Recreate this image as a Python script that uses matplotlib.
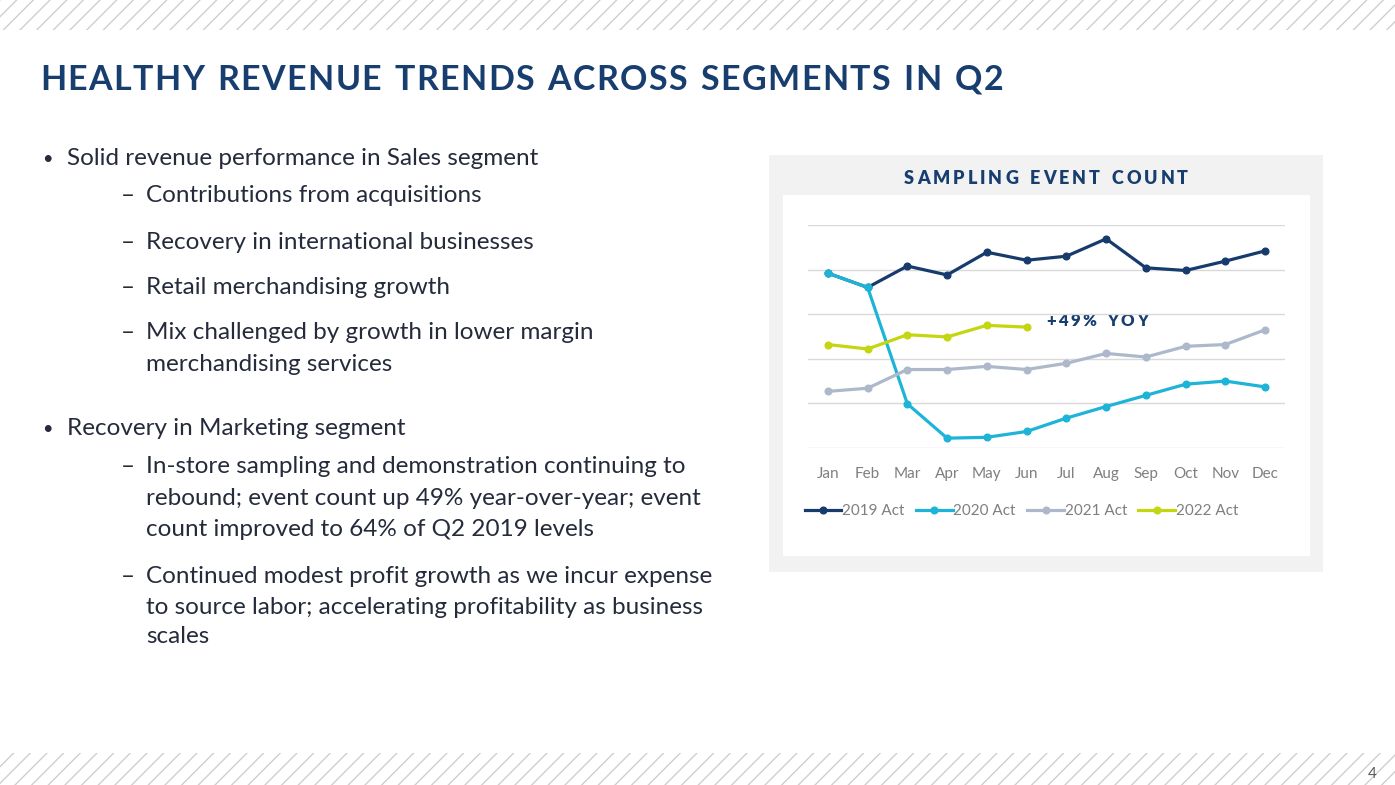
import matplotlib
matplotlib.use("Agg")
import matplotlib.pyplot as plt
from matplotlib.patches import Rectangle
from matplotlib.lines import Line2D

W, H = 1395, 785

# -------------------------------------------------------
# DATA (gridline step = 10)
# -------------------------------------------------------
months = ["Jan", "Feb", "Mar", "Apr", "May", "Jun",
          "Jul", "Aug", "Sep", "Oct", "Nov", "Dec"]
act_2019 = [39.2, 36.0, 40.8, 38.8, 43.9, 42.1, 43.0, 46.9, 40.4, 39.8, 41.9, 44.2]
act_2020 = [39.2, 36.0, 9.9, 2.2, 2.4, 3.7, 6.7, 9.3, 11.8, 14.3, 15.0, 13.7]
act_2021 = [12.7, 13.4, 17.6, 17.6, 18.3, 17.6, 19.0, 21.2, 20.4, 22.8, 23.2, 26.5]
act_2022 = [23.2, 22.2, 25.4, 24.9, 27.5, 27.1]
series_labels = ["2019 Act", "2020 Act", "2021 Act", "2022 Act"]
series_colors = ["#173B6C", "#1DB4D8", "#ADB9CA", "#C3D610"]

title = "HEALTHY REVENUE TRENDS ACROSS SEGMENTS IN Q2"
chart_title = "SAMPLING EVENT COUNT"
callout = "+49% YOY"

# (kind, text, baseline y in px)
bullets = [
    ("main", "Solid revenue performance in Sales segment", 165),
    ("sub", "Contributions from acquisitions", 202),
    ("sub", "Recovery in international businesses", 249),
    ("sub", "Retail merchandising growth", 294),
    ("sub", "Mix challenged by growth in lower margin", 339),
    ("cont", "merchandising services", 371),
    ("main", "Recovery in Marketing segment", 435),
    ("sub", "In-store sampling and demonstration continuing to", 473),
    ("cont", "rebound; event count up 49% year-over-year; event", 505),
    ("cont", "count improved to 64% of Q2 2019 levels", 536),
    ("sub", "Continued modest profit growth as we incur expense", 583),
    ("cont", "to source labor; accelerating profitability as business", 614),
    ("cont", "scales", 643),
]

NAVY = "#183E70"
BODY = "#252B3B"
BODY_FONT = "Lato"
HEAD_FONT = "Lato"


def fx(x):
    return x / W


def fy(y):
    return 1 - y / H


fig = plt.figure(figsize=(W / 100, H / 100), dpi=100)
fig.patch.set_facecolor("white")
renderer = fig.canvas.get_renderer()


def text_width(s, **kw):
    t = fig.text(0, 0, s, **kw)
    w = t.get_window_extent(renderer=renderer).width
    t.remove()
    return w


def fit_size(s, target, **kw):
    w = text_width(s, fontsize=20, **kw)
    return 20 * target / w


def spaced_text(s, x0, x1, y_base, **kw):
    # letter-spaced text stretched to run from x0 to x1 (pixels)
    widths = []
    for ch in s:
        if ch == " ":
            widths.append(text_width("n", **kw) * 0.55)
        else:
            widths.append(text_width(ch, **kw))
    gap = (x1 - x0 - sum(widths)) / (len(s) - 1)
    x = x0
    for ch, w in zip(s, widths):
        if ch != " ":
            fig.text(fx(x), fy(y_base), ch, ha="left", va="baseline", **kw)
        x += w + gap


# hatched bands top and bottom
for y0, y1 in [(0, 30), (753, 785)]:
    fig.add_artist(Rectangle((0, fy(y1)), 1, (y1 - y0) / H, transform=fig.transFigure,
                             facecolor="white", edgecolor="#CFCFCF", linewidth=0,
                             hatch="//", zorder=-2))

# title
title_kw = dict(fontsize=24.5, fontweight="bold", family=HEAD_FONT, color=NAVY)
spaced_text(title, 40, 1003, 90, **title_kw)

# bullet text
body_size = fit_size(bullets[0][1], 473, family=BODY_FONT)
for kind, s, yb in bullets:
    if kind == "main":
        fig.text(fx(42), fy(yb - 1), "\u2022", fontsize=body_size * 0.75, family=BODY_FONT,
                 color=BODY, ha="left", va="baseline")
        fig.text(fx(67), fy(yb), s, fontsize=body_size, family=BODY_FONT,
                 color=BODY, ha="left", va="baseline")
    else:
        if kind == "sub":
            fig.text(fx(121), fy(yb), "\u2013", fontsize=body_size, family=BODY_FONT,
                     color=BODY, ha="left", va="baseline")
        fig.text(fx(146), fy(yb), s, fontsize=body_size, family=BODY_FONT,
                 color=BODY, ha="left", va="baseline")

# chart panel
fig.add_artist(Rectangle((fx(769), fy(572)), (1323 - 769) / W, (572 - 155) / H,
                         transform=fig.transFigure, facecolor="#F2F2F2",
                         edgecolor="none", zorder=-1))
fig.add_artist(Rectangle((fx(783), fy(556)), (1310 - 783) / W, (556 - 195) / H,
                         transform=fig.transFigure, facecolor="white",
                         edgecolor="none", zorder=-1))

ct_kw = dict(fontsize=13, fontweight="heavy", family=HEAD_FONT, color=NAVY)
spaced_text(chart_title, 904, 1188, 184, **ct_kw)

ax = fig.add_axes([fx(808), fy(448), (1285 - 808) / W, (448 - 225) / H])
ax.set_facecolor("none")
ax.set_zorder(5)
x = list(range(len(months)))
all_series = [act_2019, act_2020, act_2021, act_2022]
draw_order = [2, 3, 0, 1]
for i in draw_order:
    vals = all_series[i]
    ax.plot(x[:len(vals)], vals, color=series_colors[i], linewidth=2.3,
            marker="o", markersize=4.8, solid_capstyle="round", zorder=3 + i)

ax.set_xlim(-0.5, 11.5)
ax.set_ylim(0, 50)
ax.set_yticks([0, 10, 20, 30, 40, 50])
ax.set_yticklabels([])
ax.yaxis.grid(True, color="#D9D9D9", linewidth=1.0)
ax.set_axisbelow(True)
ax.set_xticks(x)
ax.set_xticklabels(months, fontsize=11, family=BODY_FONT, color="#7F7F7F")
ax.tick_params(axis="both", length=0)
ax.tick_params(axis="x", pad=14)
for sp in ax.spines.values():
    sp.set_visible(False)

spaced_text(callout, 1046, 1148, 326, fontsize=12, fontweight="heavy",
            family=HEAD_FONT, color=NAVY)

handles = [Line2D([], [], color=c, linewidth=2.3, marker="o", markersize=4.8)
           for c in series_colors]
leg = fig.legend(handles, series_labels, loc="center left",
                 bbox_to_anchor=(fx(797), fy(511)), ncol=4, frameon=False,
                 handlelength=2.4, handletextpad=0.05, columnspacing=0.75,
                 borderpad=0, prop={"family": BODY_FONT, "size": 11})
for t in leg.get_texts():
    t.set_color("#7F7F7F")

fig.text(fx(1372), fy(778), "4", fontsize=11, family=BODY_FONT, color="#595959",
         ha="center", va="baseline")

fig.savefig("out.png", dpi=100)
